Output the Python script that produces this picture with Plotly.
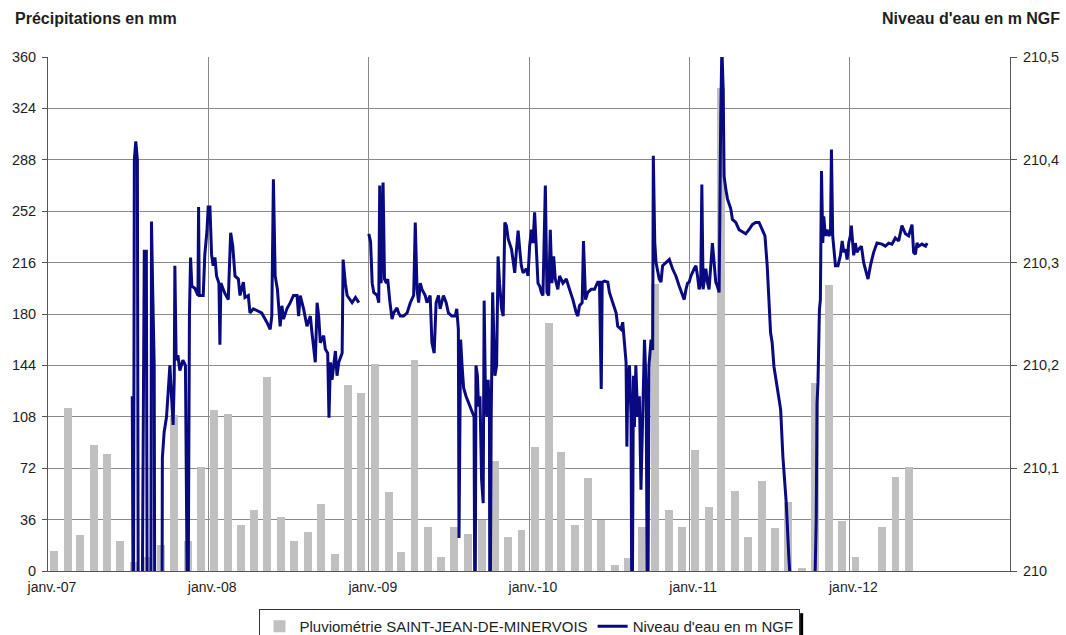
import datetime as dt
import plotly.graph_objects as go

# Monthly precipitation (mm), Jan 2007 .. May 2012
rain_start = (2007, 1)
rain_mm = [
    14, 114, 25, 88, 82, 21, 6, 10, 18, 109, 21, 73,        # 2007
    113, 110, 32, 43, 136, 38, 21, 27, 47, 12, 130, 125,    # 2008
    145, 55, 13, 148, 31, 10, 31, 26, 36, 77, 24, 29,       # 2009
    87, 174, 83, 32, 65, 36, 4, 9, 31, 201, 43, 31,         # 2010
    85, 45, 338, 56, 24, 63, 30, 48, 2, 132, 200, 35,       # 2011
    10, 0, 31, 66, 73,                                      # 2012
]

# Water level (m NGF) – time as decimal year, None = gap in record
level_t = [
    2007.526, 2007.533, 2007.539, 2007.548, 2007.558, 2007.564, 2007.586, 2007.601,
    2007.614, 2007.620, 2007.642, 2007.646, 2007.654, 2007.663, 2007.667, 2007.711,
    2007.714, 2007.725, 2007.740, 2007.750, 2007.761, 2007.771, 2007.781, 2007.788,
    2007.792, 2007.800, 2007.811, 2007.823, 2007.842, 2007.858, 2007.864, 2007.873,
    2007.883, 2007.890, 2007.898, 2007.917, 2007.936, 2007.940, 2007.944, 2007.969,
    2007.979, 2007.992,
    2008.000, 2008.011, 2008.021, 2008.031, 2008.042, 2008.052, 2008.067, 2008.073,
    2008.079, 2008.104, 2008.125, 2008.140, 2008.153, 2008.167, 2008.188, 2008.198,
    2008.219, 2008.229, 2008.250, 2008.260, 2008.281, 2008.333, 2008.365, 2008.386,
    2008.396, 2008.406, 2008.417, 2008.431, 2008.448, 2008.459, 2008.469, 2008.490,
    2008.511, 2008.531, 2008.553, 2008.563, 2008.573, 2008.594, 2008.615, 2008.636,
    2008.646, 2008.667, 2008.678, 2008.688, 2008.698, 2008.719, 2008.729, 2008.744,
    2008.752, 2008.761, 2008.771, 2008.781, 2008.792, 2008.802, 2008.813, 2008.834,
    2008.840, 2008.854, 2008.865, 2008.896, 2008.917, 2008.938, 2008.950,
    2009.000, 2009.011, 2009.021, 2009.031, 2009.052, 2009.062, 2009.068, 2009.077,
    2009.089, 2009.098, 2009.110, 2009.118, 2009.130, 2009.145, 2009.155, 2009.176,
    2009.186, 2009.197, 2009.217, 2009.239, 2009.259, 2009.280, 2009.290, 2009.301,
    2009.311, 2009.321, 2009.332, 2009.352, 2009.363, 2009.383, 2009.394, 2009.408,
    2009.420, 2009.435, 2009.445, 2009.466, 2009.483, 2009.497, 2009.518, 2009.539,
    2009.549, 2009.559, 2009.563, 2009.573, 2009.582, 2009.592, 2009.607, 2009.632,
    2009.657, 2009.663, 2009.669, 2009.678, 2009.685, 2009.694, 2009.704, 2009.714,
    2009.720, 2009.728, 2009.737, 2009.745, 2009.753, 2009.756, 2009.764, 2009.773,
    2009.782, 2009.787, 2009.798, 2009.807, 2009.816, 2009.829, 2009.839, 2009.849,
    2009.859, 2009.870, 2009.891, 2009.901, 2009.911, 2009.922, 2009.932, 2009.942,
    2009.952, 2009.963, 2009.984, 2009.994,
    2010.004, 2010.015, 2010.025, 2010.035, 2010.046, 2010.056, 2010.067, 2010.077,
    2010.087, 2010.102, 2010.112, 2010.123, 2010.133, 2010.143, 2010.154, 2010.164,
    2010.180, 2010.191, 2010.212, 2010.233, 2010.253, 2010.274, 2010.295, 2010.305,
    2010.315, 2010.332, 2010.340, 2010.353, 2010.367, 2010.388, 2010.409, 2010.429,
    2010.440, 2010.451, 2010.457, 2010.471, 2010.492, 2010.502, 2010.523, 2010.544,
    2010.554, 2010.575, 2010.585, 2010.596, 2010.606, 2010.611, 2010.616, 2010.627,
    2010.637, 2010.643, 2010.652, 2010.658, 2010.667, 2010.678, 2010.689, 2010.699,
    2010.710, 2010.721, 2010.731, 2010.741, 2010.749, 2010.762, 2010.772, 2010.776,
    2010.785, 2010.793, 2010.813, 2010.824, 2010.834, 2010.855, 2010.876, 2010.896,
    2010.917, 2010.938, 2010.959, 2010.969, 2010.980, 2010.990,
    2011.000, 2011.011, 2011.031, 2011.042, 2011.052, 2011.062, 2011.072, 2011.079,
    2011.087, 2011.104, 2011.114, 2011.124, 2011.145, 2011.156, 2011.166, 2011.176,
    2011.187, 2011.197, 2011.204, 2011.212, 2011.218, 2011.229, 2011.239, 2011.260,
    2011.270, 2011.291, 2011.311, 2011.332, 2011.353, 2011.373, 2011.394, 2011.415,
    2011.436, 2011.456, 2011.473, 2011.487, 2011.498, 2011.508, 2011.518, 2011.529,
    2011.543, 2011.560, 2011.571, 2011.585, 2011.597, 2011.606, 2011.622, 2011.635,
    2011.684, 2011.747, 2011.784, 2011.793, 2011.798, 2011.804, 2011.813, 2011.819,
    2011.826, 2011.834, 2011.840, 2011.850, 2011.861, 2011.871, 2011.882, 2011.888,
    2011.896, 2011.902, 2011.913, 2011.929, 2011.944, 2011.955, 2011.965, 2011.976,
    2011.986, 2011.996,
    2012.006, 2012.012, 2012.021, 2012.027, 2012.037, 2012.047, 2012.058, 2012.075,
    2012.089, 2012.103, 2012.116, 2012.131, 2012.151, 2012.172, 2012.203, 2012.224,
    2012.245, 2012.265, 2012.286, 2012.307, 2012.327, 2012.349, 2012.369, 2012.390,
    2012.400, 2012.411, 2012.421, 2012.432, 2012.452, 2012.474, 2012.484,
]
level_m = [
    210.17, 209.9, 210.40, 210.418, 210.40, 209.9, 209.9, 210.311,
    210.311, 209.9, 209.9, 210.34, 210.27, 210.20, 209.9, 209.9,
    210.11, 210.135, 210.15, 210.178, 210.2, 210.17, 210.142, 210.186,
    210.297, 210.205, 210.21, 210.195, 210.205, 210.2, 209.9, 209.9,
    210.25, 210.305, 210.277, 210.275, 210.268, 210.354, 210.268, 210.268,
    210.308, 210.33,
    210.354, 210.354, 210.308, 210.297, 210.305, 210.287, 210.28, 210.22,
    210.28, 210.27, 210.264, 210.329, 210.316, 210.287, 210.284, 210.268,
    210.281, 210.266, 210.268, 210.251, 210.255, 210.251, 210.242, 210.235,
    210.248, 210.381, 210.287, 210.274, 210.238, 210.258, 210.245, 210.255,
    210.261, 210.268, 210.268, 210.248, 210.268, 210.255, 210.238, 210.248,
    210.232, 210.203, 210.261, 210.248, 210.222, 210.229, 210.216, 210.212,
    210.149, 210.203, 210.186, 210.199, 210.214, 210.19, 210.203, 210.212,
    210.303, 210.28, 210.268, 210.261, 210.266, 210.261, None,
    210.328, 210.32, 210.28, 210.271, 210.268, 210.261, 210.375, 210.28,
    210.378, 210.284, 210.28, 210.284, 210.264, 210.245, 210.251, 210.256,
    210.251, 210.248, 210.248, 210.251, 210.261, 210.268, 210.339, 210.274,
    210.261, 210.28, 210.274, 210.268, 210.261, 210.268, 210.222, 210.212,
    210.261, 210.268, 210.255, 210.268, 210.261, 210.251, 210.248, 210.248,
    210.255, 210.235, 210.032, 210.225, 210.2, 210.178, 210.17, 210.16,
    210.15, 209.9, 210.2, 210.19, 210.16, 210.17, 210.089, 210.066,
    210.263, 210.17, 210.15, 210.186, 210.15, 209.9, 210.15, 210.271,
    210.22, 210.19, 210.2, 210.306, 210.28, 210.255, 210.248, 210.339,
    210.336, 210.323, 210.313, 210.3, 210.29, 210.313, 210.331, 210.313,
    210.297, 210.29, 210.294, 210.287,
    210.316, 210.332, 210.319, 210.349, 210.306, 210.28, 210.277, 210.271,
    210.268, 210.375, 210.271, 210.268, 210.332, 210.28, 210.306, 210.284,
    210.274, 210.287, 210.28, 210.284, 210.274, 210.264, 210.251, 210.248,
    210.258, 210.261, 210.321, 210.264, 210.271, 210.274, 210.274, 210.281,
    210.281, 210.177, 210.281, 210.282, 210.281, 210.271, 210.261, 210.251,
    210.238, 210.235, 210.242, 210.216, 210.203, 210.121, 210.177, 210.2,
    210.15, 209.9, 210.19, 210.14, 210.2, 210.15, 210.17, 210.079,
    210.15, 210.225, 210.18, 209.9, 210.2, 210.225, 210.215, 210.404,
    210.32, 210.3, 210.284, 210.281, 210.297, 210.3, 210.303, 210.294,
    210.287, 210.277, 210.268, 210.264, 210.274, 210.28,
    210.281, 210.287, 210.294, 210.297, 210.287, 210.274, 210.28, 210.376,
    210.274, 210.294, 210.281, 210.274, 210.319, 210.3, 210.281, 210.277,
    210.271, 210.443, 210.51, 210.469, 210.384, 210.371, 210.362, 210.352,
    210.342, 210.339, 210.332, 210.33, 210.328, 210.332, 210.337, 210.339,
    210.339, 210.332, 210.326, 210.297, 210.264, 210.232, 210.222, 210.199,
    210.185, 210.167, 210.157, 210.111, 210.082, 210.066, 210.014, 209.98,
    209.95, 209.95, 209.98, 210.05, 210.163, 210.183, 210.254, 210.264,
    210.389, 210.319, 210.345, 210.326, 210.332, 210.326, 210.328, 210.41,
    210.326, 210.313, 210.297, 210.297, 210.307, 210.321, 210.31, 210.313,
    210.303, 210.319,
    210.326, 210.336, 210.313, 210.307, 210.319, 210.31, 210.313, 210.316,
    210.3, 210.292, 210.284, 210.297, 210.31, 210.319, 210.318, 210.316,
    210.319, 210.318, 210.324, 210.321, 210.336, 210.328, 210.326, 210.337,
    210.31, 210.308, 210.319, 210.316, 210.318, 210.316, 210.319,
]

year_ticks = [2007, 2008, 2009, 2010, 2011, 2012]
year_labels = ["janv.-07", "janv.-08", "janv.-09", "janv.-10", "janv.-11", "janv.-12"]


def dec_to_date(t):
    y = int(t)
    start = dt.datetime(y, 1, 1)
    end = dt.datetime(y + 1, 1, 1)
    return start + (end - start) * (t - y)


rain_dates = []
y, m = rain_start
for _ in rain_mm:
    rain_dates.append(dt.datetime(y, m, 15))
    m += 1
    if m > 12:
        m = 1
        y += 1

level_dates = [dec_to_date(t) for t in level_t]

FONT = "Liberation Sans, Arial, sans-serif"
GRID = "#8a8a8a"
TXT = "#1e1e1e"

fig = go.Figure()
fig.add_trace(go.Bar(
    x=rain_dates, y=rain_mm, name="Pluviométrie SAINT-JEAN-DE-MINERVOIS",
    marker=dict(color="#c0c0c0", line=dict(width=0)),
    width=18 * 86400000, yaxis="y",
))
fig.add_trace(go.Scatter(
    x=level_dates, y=level_m, name="Niveau d'eau en m NGF", mode="lines",
    line=dict(color="#0a0a80", width=3), yaxis="y2", connectgaps=False,
))

fig.update_layout(
    width=1066, height=635,
    margin=dict(l=48, r=56, t=57, b=64, autoexpand=False),
    paper_bgcolor="white", plot_bgcolor="white",
    separators=", ",
    font=dict(family=FONT, size=14, color=TXT),
    showlegend=True,
    bargap=0,
    legend=dict(
        orientation="h", x=0.5, xanchor="center", y=-0.074, yanchor="top",
        bordercolor="#333333", borderwidth=1, bgcolor="white",
        font=dict(family=FONT, size=15, color=TXT),
        itemwidth=30, tracegroupgap=0,
    ),
    xaxis=dict(
        type="date", automargin=False,
        range=[dt.datetime(2007, 1, 1), dt.datetime(2013, 1, 1)],
        tickvals=[dt.datetime(yy, 1, 1) for yy in year_ticks],
        ticktext=year_labels,
        showgrid=True, gridcolor=GRID, gridwidth=1,
        showline=True, linecolor="#555555", linewidth=1,
        ticks="", tickfont=dict(size=14, color=TXT),
        ticklabelshift=4, ticklabelstandoff=3,
        zeroline=False,
    ),
    yaxis=dict(
        range=[0, 360], dtick=36, tick0=0, automargin=False,
        showgrid=True, gridcolor=GRID, gridwidth=1,
        showline=True, linecolor="#555555", linewidth=1,
        ticks="outside", ticklen=5, tickcolor="#555555",
        tickfont=dict(size=14.5, color=TXT), ticklabelstandoff=3,
        zeroline=False,
    ),
    yaxis2=dict(
        range=[210, 210.5], dtick=0.1, tick0=210, automargin=False,
        overlaying="y", side="right", showgrid=False,
        showline=True, linecolor="#555555", linewidth=1,
        ticks="outside", ticklen=6, tickcolor="#555555",
        tickfont=dict(size=14.5, color=TXT), ticklabelstandoff=3,
        zeroline=False,
    ),
    annotations=[
        dict(text="<b>Précipitations en mm</b>", xref="paper", yref="paper",
             x=-0.0367, y=1.074, xanchor="left", yanchor="middle", showarrow=False,
             font=dict(family=FONT, size=16, color=TXT)),
        dict(text="<b>Niveau d'eau en m NGF</b>", xref="paper", yref="paper",
             x=1.0537, y=1.074, xanchor="right", yanchor="middle", showarrow=False,
             font=dict(family=FONT, size=16, color=TXT)),
    ],
    shapes=[
        # shadow on the right edge of the legend box
        dict(type="rect", xref="paper", yref="paper",
             x0=0.7818, x1=0.7850, y0=-0.082, y1=-0.14,
             fillcolor="#000000", line=dict(width=0), layer="above"),
    ],
)

fig.write_html("out.html", config={"displayModeBar": False},
               post_script="document.body.style.margin='0';")
